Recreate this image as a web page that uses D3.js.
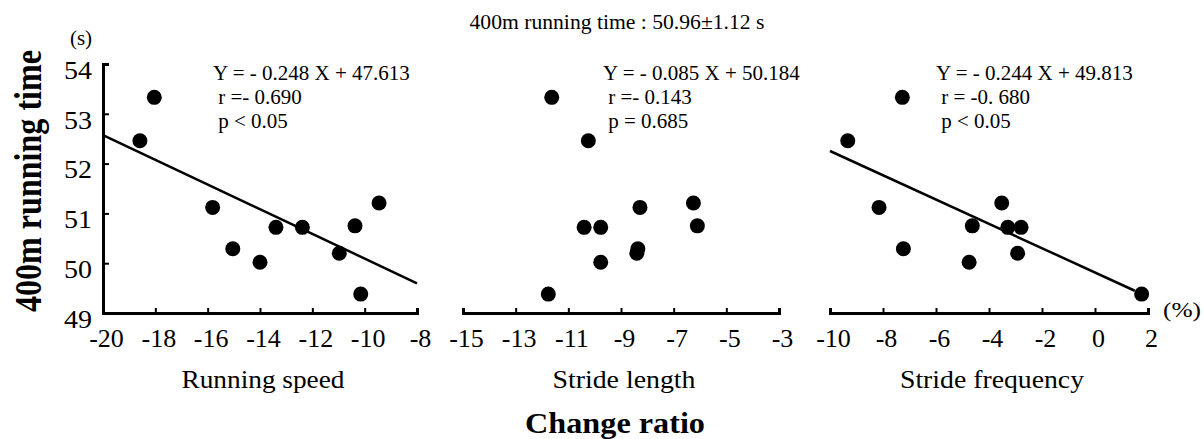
<!DOCTYPE html>
<html>
<head>
<meta charset="utf-8">
<script src="https://cdn.jsdelivr.net/npm/d3@7"></script>
<style>
  body { margin: 0; background: #fff; }
  text { font-family: "Liberation Serif", "Times New Roman", serif; fill: #000; }
</style>
</head>
<body>
<script>
// 400m running time of each runner (s), same order in every panel
let runTime = [53.33, 52.46, 51.21, 51.12, 50.75, 50.72, 50.72, 50.29, 50.20, 50.02, 49.38];

// change ratio (%) of each runner
let speedChange = [-18.04, -18.59, -9.45, -15.81, -10.37, -13.39, -12.38, -15.04, -10.97, -14.0, -10.15];
let lengthChange = [-11.63, -10.24, -6.25, -8.28, -6.10, -10.40, -9.77, -8.36, -8.40, -9.77, -11.76];
let freqChange = [-7.27, -9.33, -3.52, -8.15, -4.63, -3.29, -2.79, -7.23, -2.92, -4.75, 1.76];

let panelNames = ["Running speed", "Stride length", "Stride frequency"];
let xDomains = [[-20, -8], [-15, -3], [-10, 2]];
let slopes = [-0.248, -0.085, -0.244];
let intercepts = [47.613, 50.184, 49.813];
let lineRanges = [[-20, -8], null, [-10, 1.5]];
let statLines = [
    ["Y = - 0.248 X + 47.613", " r =- 0.690", " p < 0.05"],
    ["Y = - 0.085 X + 50.184", " r =- 0.143", " p = 0.685"],
    ["Y = - 0.244 X + 49.813", " r = -0. 680", " p < 0.05"]
];
let yTicks = [49, 50, 51, 52, 53, 54];

let width = 1204;
let height = 439;

let svg = d3.select("body").append("svg")
    .attr("width", width)
    .attr("height", height);

//Echelle verticale commune
let y = d3.scaleLinear().domain([49, 54]).range([313, 64]);

let panelX = [[103, 417], [463, 779], [830, 1148]];
let xData = [speedChange, lengthChange, freqChange];
let statX = [213, 603, 936];
let nameWidths = [163, 143, 184];

panelNames.forEach(function(name, i) {
    let x = d3.scaleLinear().domain(xDomains[i]).range(panelX[i]);
    let g = svg.append("g");

    //Axe des x
    let ax = g.append("g")
        .attr("transform", "translate(0,313)")
        .call(d3.axisBottom(x)
            .tickValues(d3.range(xDomains[i][0], xDomains[i][1] + 1, 2))
            .tickSizeInner(-5)
            .tickSizeOuter(-5)
            .tickPadding(16)
            .tickFormat(d3.format("d")));
    ax.attr("font-family", null).attr("font-size", null);
    ax.select(".domain").attr("stroke-width", 3);
    ax.selectAll(".tick line").attr("stroke-width", 2);
    ax.selectAll(".tick text")
        .style("font-size", "26px")
        .attr("x", 3)
        .text(d => d < 0 ? "-" + Math.abs(d) : d);

    //Axe des y seulement sur le premier
    if (i === 0) {
        let ay = g.append("g")
            .attr("transform", "translate(103,0)")
            .call(d3.axisLeft(y)
                .tickValues(yTicks)
                .tickSizeInner(-6)
                .tickSizeOuter(-6)
                .tickPadding(11)
                .tickFormat(d3.format("d")));
        ay.attr("font-family", null).attr("font-size", null);
        ay.select(".domain").attr("stroke-width", 3);
        ay.selectAll(".tick line").attr("stroke-width", 2);
        ay.selectAll(".tick text")
            .style("font-size", "26px")
            .attr("textLength", 28)
            .attr("lengthAdjust", "spacingAndGlyphs")
            .attr("y", 6);
    }

    //Droite de regression
    if (lineRanges[i]) {
        let r = lineRanges[i];
        g.append("line")
            .attr("x1", x(r[0]))
            .attr("y1", y(slopes[i] * r[0] + intercepts[i]))
            .attr("x2", x(r[1]))
            .attr("y2", y(slopes[i] * r[1] + intercepts[i]))
            .attr("stroke", "#000")
            .attr("stroke-width", 2.5);
    }

    //Les points
    g.selectAll("circle")
        .data(runTime)
        .enter()
        .append("circle")
        .attr("cx", (d, j) => x(xData[i][j]))
        .attr("cy", d => y(d))
        .attr("r", 7.5)
        .attr("fill", "#000");

    //Equation, r et p
    g.selectAll(".stat")
        .data(statLines[i])
        .enter()
        .append("text")
        .attr("class", "stat")
        .attr("x", statX[i])
        .attr("y", (d, j) => 80 + j * 24)
        .style("font-size", "21px")
        .style("white-space", "pre")
        .attr("xml:space", "preserve")
        .text(d => d);

    //Nom de la variable
    g.append("text")
        .attr("x", (panelX[i][0] + panelX[i][1]) / 2 + 3)
        .attr("y", 388)
        .attr("text-anchor", "middle")
        .attr("textLength", nameWidths[i])
        .attr("lengthAdjust", "spacingAndGlyphs")
        .style("font-size", "25px")
        .text(name);
});

//Titre
svg.append("text")
    .attr("x", 617)
    .attr("y", 29)
    .attr("text-anchor", "middle")
    .attr("textLength", 295)
    .attr("lengthAdjust", "spacingAndGlyphs")
    .style("font-size", "20px")
    .text("400m running time : 50.96\u00b11.12 s");

svg.append("text")
    .attr("x", 81)
    .attr("y", 45)
    .attr("text-anchor", "middle")
    .style("font-size", "21px")
    .text("(s)");

svg.append("text")
    .attr("x", 1182)
    .attr("y", 317)
    .attr("text-anchor", "middle")
    .attr("textLength", 38)
    .attr("lengthAdjust", "spacingAndGlyphs")
    .style("font-size", "21px")
    .text("(%)");

svg.append("text")
    .attr("transform", "translate(41,181) rotate(-90)")
    .attr("text-anchor", "middle")
    .attr("textLength", 262)
    .attr("lengthAdjust", "spacingAndGlyphs")
    .style("font-size", "38px")
    .style("font-weight", "bold")
    .text("400m running time");

svg.append("text")
    .attr("x", 615)
    .attr("y", 433)
    .attr("text-anchor", "middle")
    .attr("textLength", 180)
    .attr("lengthAdjust", "spacingAndGlyphs")
    .style("font-size", "29px")
    .style("font-weight", "bold")
    .text("Change ratio");
</script>
</body>
</html>
